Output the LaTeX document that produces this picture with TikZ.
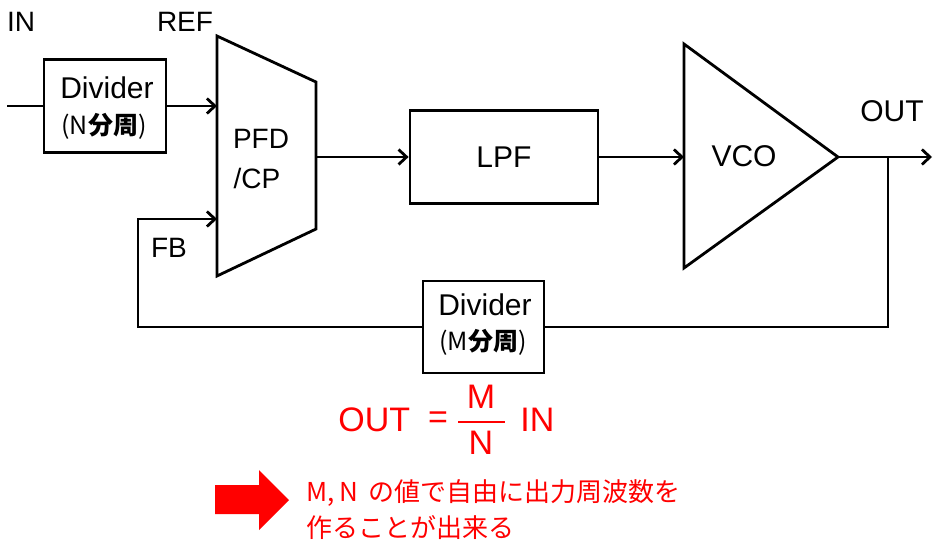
\documentclass[tikz,border=0pt]{standalone}
\usepackage{fontspec}
\setmainfont{Liberation Sans}
\newfontfamily\cjk{Noto Sans CJK JP}
\usetikzlibrary{arrows.meta}
\definecolor{pred}{RGB}{255,0,0}
\begin{document}
\begin{tikzpicture}[x=1pt,y=-1pt,line width=2.8pt,
  box/.style={draw,line width=2.8pt,inner sep=0pt},
  txt/.style={inner sep=0pt,font=\fontsize{28}{30}\selectfont},
  big/.style={inner sep=0pt,font=\fontsize{30}{32}\selectfont},
  jtxt/.style={inner sep=0pt,font=\cjk\fontsize{25}{27}\selectfont},
  rtxt/.style={inner sep=0pt,text=pred,font=\fontsize{34}{36}\selectfont},
  rjtxt/.style={inner sep=0pt,text=pred,anchor=west,font=\cjk\fontsize{26}{28}\selectfont},
  arr/.style={-{Straight Barb[length=8pt,width=15pt]}}]
\useasboundingbox (0,0) rectangle (940,544);

% labels
\node[txt] (lin) at (21,22) {IN};
\node[txt] (lref) at (185,22) {REF};
\node[txt] (lfb) at (169,248) {FB};
\node[big] (lout) at (892,111) {OUT};

% Divider N
\node[box,minimum width=122pt,minimum height=93pt] (divN) at (105,106) {};
\node[big] (divNt) at (107,88) {Divider};
\node[jtxt] (divNs) at (104,126) {(N\textbf{分周})};
\coordinate (inL) at (7,106);
\draw (inL) -- (divN.west);

% PFD/CP
\coordinate (pfdTL) at (217,36);
\coordinate (pfdTR) at (316,82);
\coordinate (pfdBR) at (316,229);
\coordinate (pfdBL) at (217,276);
\coordinate (pfdA) at (217,106);
\coordinate (pfdB) at (217,219);
\coordinate (pfdO) at (316,157);
\draw (pfdTL) -- (pfdTR) -- (pfdBR) -- (pfdBL) -- cycle;
\node[txt] (pfdt1) at (261,139) {PFD};
\node[txt] (pfdt2) at (257,178) {/CP};
\draw[arr] (divN.east) -- (pfdA);

% LPF
\node[box,big,minimum width=188pt,minimum height=93pt] (lpf) at (504,157) {LPF};
\draw[arr] (pfdO) -- (lpf.west);

% VCO
\coordinate (vcoT) at (684,44);
\coordinate (vcoTip) at (838,157);
\coordinate (vcoB) at (684,268);
\coordinate (vcoIn) at (684,157);
\draw (vcoT) -- (vcoTip) -- (vcoB) -- cycle;
\node[big] (vcot) at (744,156) {VCO};
\draw[arr] (lpf.east) -- (vcoIn);
\coordinate (outEnd) at (932,157);
\draw[arr] (vcoTip) -- (outEnd);

% feedback divider
\coordinate (tap) at (888,157);
\node[box,minimum width=121pt,minimum height=92pt] (divM) at (483.5,327) {};
\node[big] (divMt) at (485,305) {Divider};
\node[jtxt] (divMs) at (483,342) {(M\textbf{分周})};
\draw (tap) |- (divM.east);
\coordinate (fbc) at (138,219);
\draw[arr] (divM.west) -| (fbc) -- (pfdB);

% formula
\node[rtxt,anchor=west] (fout) at (337,420) {OUT};
\node[rtxt] (feq) at (438,420) {=};
\node[rtxt] (fm) at (481,397) {M};
\node[rtxt] (fn) at (481,443) {N};
\draw[pred,line width=2.6pt] (458,422) -- (505,422);
\node[rtxt,anchor=west] (fin) at (519,420) {IN};

% red arrow and note
\fill[pred] (215,485) -- (259,485) -- (259,470) -- (289,500) -- (259,530) -- (259,514) -- (215,514) -- cycle;
\node[rjtxt] (note1) at (305,493) {M,\,N\, の値で自由に出力周波数を};
\node[rjtxt] (note2) at (305,528) {作ることが出来る};
\end{tikzpicture}
\end{document}
